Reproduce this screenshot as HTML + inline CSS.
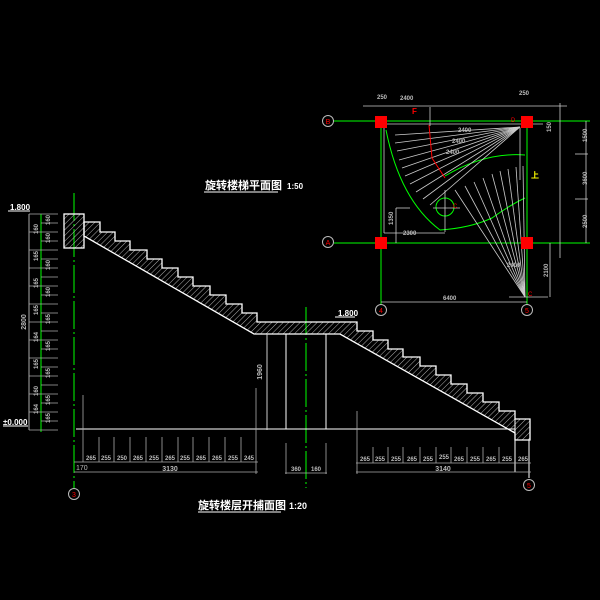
<!DOCTYPE html>
<html><head><meta charset="utf-8"><style>
html,body{margin:0;padding:0;background:#000;}
svg{display:block}
text{font-family:"Liberation Sans","Noto Sans CJK SC",sans-serif;}
.d{fill:#bbb;font-size:7px;font-weight:bold}
.t{fill:#fff;font-size:11px;font-weight:bold}
</style></head><body>
<svg width="600" height="600" viewBox="0 0 600 600" xmlns="http://www.w3.org/2000/svg">
<defs>
<pattern id="h" width="4" height="4" patternUnits="userSpaceOnUse" patternTransform="rotate(45)">
<line x1="0" y1="0" x2="0" y2="4" stroke="#ddd" stroke-width="0.8"/>
</pattern>
</defs>
<rect width="600" height="600" fill="#000"/>

<!-- ===== SECTION ===== -->
<!-- green axis lines -->
<line x1="74" y1="193" x2="74" y2="488" stroke="#0f0" stroke-width="1" stroke-dasharray="28,3,2,3"/>
<line x1="306" y1="307" x2="306" y2="488" stroke="#0f0" stroke-width="1" stroke-dasharray="28,3,2,3"/>
<line x1="41" y1="214" x2="41" y2="432" stroke="#0f0" stroke-width="1"/>
<!-- landing block -->
<rect x="64" y="214" width="20" height="34" fill="url(#h)" stroke="#fff" stroke-width="1.3"/>
<!-- stair body -->
<polygon points="84,222 100,222 100,232 115,232 115,241 130,241 130,250 147,250 147,259 162,259 162,268 178,268 178,277 193,277 193,286 210,286 210,295 226,295 226,304 242,304 242,313 257,313 257,322 357,322 357,331 373,331 373,340 388,340 388,349 403,349 403,357 420,357 420,366 436,366 436,375 451,375 451,384 467,384 467,393 483,393 483,402 499,402 499,411 515,411 515,419 530,419 530,440 515,440 515,433 340,334 254,334 84,236" fill="url(#h)" stroke="#fff" stroke-width="1.3"/>
<line x1="515" y1="419" x2="515" y2="440" stroke="#fff" stroke-width="1"/>
<!-- floor & verticals -->
<line x1="76" y1="429" x2="515" y2="429" stroke="#fff" stroke-width="1"/>
<line x1="267" y1="334" x2="267" y2="430" stroke="#ccc" stroke-width="1"/>
<line x1="286" y1="334" x2="286" y2="429" stroke="#fff" stroke-width="1"/>
<line x1="326" y1="334" x2="326" y2="429" stroke="#fff" stroke-width="1"/>
<line x1="529" y1="440" x2="529" y2="478" stroke="#fff" stroke-width="1"/>
<line x1="515" y1="440" x2="515" y2="472" stroke="#fff" stroke-width="1"/>
<text class="d" transform="translate(262,372) rotate(-90)" text-anchor="middle">1960</text>
<!-- level marks -->
<line x1="335" y1="317" x2="355" y2="317" stroke="#fff"/>
<text class="t" x="338" y="316" style="font-size:8px">1.800</text>
<line x1="8" y1="211" x2="30" y2="211" stroke="#fff"/>
<text class="t" x="10" y="210" style="font-size:8px">1.800</text>
<line x1="3" y1="426" x2="28" y2="426" stroke="#fff"/>
<text class="t" x="3" y="425" style="font-size:8px">±0.000</text>
<!-- left vertical dims -->
<line x1="29" y1="214" x2="29" y2="430" stroke="#aaa"/>
<text class="d" transform="translate(26,322) rotate(-90)" text-anchor="middle">2800</text>
<g stroke="#aaa" stroke-width="0.8">
<line x1="29" y1="214" x2="58" y2="214"/><line x1="41" y1="223" x2="58" y2="223"/><line x1="29" y1="232" x2="58" y2="232"/><line x1="41" y1="241" x2="58" y2="241"/><line x1="29" y1="250" x2="58" y2="250"/><line x1="41" y1="259" x2="58" y2="259"/><line x1="29" y1="268" x2="58" y2="268"/><line x1="41" y1="277" x2="58" y2="277"/><line x1="29" y1="286" x2="58" y2="286"/><line x1="41" y1="295" x2="58" y2="295"/><line x1="29" y1="304" x2="58" y2="304"/><line x1="41" y1="313" x2="58" y2="313"/><line x1="29" y1="322" x2="58" y2="322"/><line x1="41" y1="331" x2="58" y2="331"/><line x1="29" y1="340" x2="58" y2="340"/><line x1="41" y1="349" x2="58" y2="349"/><line x1="29" y1="358" x2="58" y2="358"/><line x1="41" y1="367" x2="58" y2="367"/><line x1="29" y1="376" x2="58" y2="376"/><line x1="41" y1="385" x2="58" y2="385"/><line x1="29" y1="394" x2="58" y2="394"/><line x1="41" y1="403" x2="58" y2="403"/><line x1="29" y1="412" x2="58" y2="412"/><line x1="41" y1="421" x2="58" y2="421"/><line x1="29" y1="430" x2="58" y2="430"/>
</g>
<g class="d" style="font-size:6px">
<text transform="translate(50,225) rotate(-90)">160</text><text transform="translate(38,234) rotate(-90)">160</text><text transform="translate(50,243) rotate(-90)">160</text><text transform="translate(38,261) rotate(-90)">165</text><text transform="translate(50,270) rotate(-90)">160</text><text transform="translate(38,288) rotate(-90)">165</text><text transform="translate(50,297) rotate(-90)">160</text><text transform="translate(38,315) rotate(-90)">165</text><text transform="translate(50,324) rotate(-90)">165</text><text transform="translate(38,342) rotate(-90)">164</text><text transform="translate(50,351) rotate(-90)">165</text><text transform="translate(38,369) rotate(-90)">165</text><text transform="translate(50,378) rotate(-90)">165</text><text transform="translate(38,396) rotate(-90)">160</text><text transform="translate(50,405) rotate(-90)">165</text><text transform="translate(38,414) rotate(-90)">164</text><text transform="translate(50,423) rotate(-90)">165</text>
</g>
<!-- bottom left dims -->
<g stroke="#aaa" stroke-width="0.8">
<line x1="83" y1="395" x2="83" y2="462"/><line x1="99" y1="437" x2="99" y2="462"/><line x1="114" y1="437" x2="114" y2="462"/><line x1="130" y1="437" x2="130" y2="462"/><line x1="146" y1="437" x2="146" y2="462"/><line x1="162" y1="437" x2="162" y2="462"/><line x1="178" y1="437" x2="178" y2="462"/><line x1="193" y1="437" x2="193" y2="462"/><line x1="209" y1="437" x2="209" y2="462"/><line x1="225" y1="437" x2="225" y2="462"/><line x1="241" y1="437" x2="241" y2="462"/><line x1="256" y1="388" x2="256" y2="474"/>
<line x1="74" y1="462" x2="258" y2="462"/><line x1="74" y1="472" x2="258" y2="472"/>
<line x1="286" y1="443" x2="286" y2="474"/><line x1="326" y1="443" x2="326" y2="474"/><line x1="285" y1="473" x2="327" y2="473"/>
<line x1="357" y1="411" x2="357" y2="474"/><line x1="373" y1="447" x2="373" y2="463"/><line x1="388" y1="447" x2="388" y2="463"/><line x1="403" y1="447" x2="403" y2="463"/><line x1="420" y1="447" x2="420" y2="463"/><line x1="436" y1="447" x2="436" y2="463"/><line x1="451" y1="447" x2="451" y2="463"/><line x1="467" y1="447" x2="467" y2="463"/><line x1="483" y1="447" x2="483" y2="463"/><line x1="499" y1="447" x2="499" y2="463"/>
<line x1="356" y1="463" x2="531" y2="463"/><line x1="356" y1="472" x2="531" y2="472"/>
</g>
<g class="d" style="font-size:6px" text-anchor="middle">
<text x="91" y="460">265</text><text x="106" y="460">255</text><text x="122" y="460">250</text><text x="138" y="460">265</text><text x="154" y="460">255</text><text x="170" y="460">265</text><text x="185" y="460">255</text><text x="201" y="460">265</text><text x="217" y="460">265</text><text x="233" y="460">255</text><text x="249" y="460">245</text>
<text x="365" y="461">265</text><text x="380" y="461">255</text><text x="396" y="461">255</text><text x="412" y="461">265</text><text x="428" y="461">255</text><text x="444" y="459">255</text><text x="459" y="461">265</text><text x="475" y="461">255</text><text x="491" y="461">265</text><text x="507" y="461">255</text><text x="523" y="461">265</text>
<text x="296" y="471">360</text><text x="316" y="471">160</text>
</g>
<text class="d" x="76" y="470" style="font-size:7px;font-weight:normal">170</text>
<text class="d" x="170" y="471" text-anchor="middle">3130</text>
<text class="d" x="443" y="471" text-anchor="middle">3140</text>
<circle cx="74" cy="494" r="5.5" fill="none" stroke="#bbb"/><text x="74" y="497" fill="#f00" font-size="7" text-anchor="middle">3</text>
<circle cx="529" cy="485" r="5.5" fill="none" stroke="#bbb"/><text x="529" y="488" fill="#f00" font-size="7" text-anchor="middle">5</text>
<text class="t" x="198" y="509">旋转楼层开捕面图</text><text class="t" x="289" y="509" style="font-size:9px">1:20</text>
<line x1="198" y1="512" x2="281" y2="512" stroke="#fff"/>
<text class="t" x="205" y="189">旋转楼梯平面图</text><text class="t" x="287" y="189" style="font-size:8px">1:50</text>
<line x1="204" y1="192" x2="278" y2="192" stroke="#fff"/>

<!-- ===== PLAN ===== -->
<g stroke="#0f0" stroke-width="1" fill="none">
<line x1="334" y1="121" x2="590" y2="121"/>
<line x1="334" y1="243" x2="590" y2="243"/>
<line x1="381" y1="125" x2="381" y2="304"/>
<line x1="527" y1="128" x2="527" y2="304"/>
<path d="M386,130 Q400,200 440,230 Q470,228 492,218 Q510,205 525,198"/>
<path d="M445,176 Q485,152 525,155"/>
<circle cx="445" cy="207" r="9"/>
</g>
<g stroke="#ccc" stroke-width="0.8" fill="none">
<line x1="363" y1="106" x2="567" y2="106"/>
<line x1="384" y1="124" x2="543" y2="124"/>
<line x1="384" y1="124" x2="384" y2="233"/>
<line x1="384" y1="233" x2="445" y2="233"/>
<line x1="396" y1="208" x2="396" y2="243"/>
<line x1="396" y1="208" x2="410" y2="208"/>
<line x1="381" y1="302" x2="527" y2="302"/>
<line x1="509" y1="297" x2="548" y2="297"/>
<line x1="550" y1="243" x2="550" y2="297"/>
<line x1="560" y1="103" x2="560" y2="258"/>
<line x1="586" y1="121" x2="586" y2="243"/>
<line x1="575" y1="154" x2="588" y2="154"/>
<line x1="575" y1="199" x2="588" y2="199"/>
<line x1="520" y1="128" x2="520" y2="180"/>
<line x1="430" y1="107" x2="430" y2="126"/>
<line x1="445" y1="190" x2="445" y2="232"/><line x1="433" y1="208" x2="460" y2="208"/>
<line x1="520" y1="127" x2="395" y2="135"/><line x1="520" y1="127" x2="395" y2="143"/><line x1="520" y1="127" x2="397" y2="151"/><line x1="520" y1="127" x2="399" y2="160"/><line x1="520" y1="127" x2="402" y2="168"/><line x1="520" y1="127" x2="405" y2="176"/><line x1="520" y1="127" x2="410" y2="184"/><line x1="520" y1="127" x2="416" y2="192"/><line x1="520" y1="127" x2="423" y2="199"/><line x1="520" y1="127" x2="430" y2="205"/>
<line x1="525" y1="297" x2="455" y2="190"/><line x1="525" y1="297" x2="465" y2="186"/><line x1="525" y1="297" x2="474" y2="182"/><line x1="525" y1="297" x2="483" y2="178"/><line x1="525" y1="297" x2="492" y2="174"/><line x1="525" y1="297" x2="500" y2="171"/><line x1="525" y1="297" x2="508" y2="169"/><line x1="525" y1="297" x2="516" y2="167"/><line x1="525" y1="297" x2="523" y2="166"/>
</g>
<path d="M429,125 L432,158 L445,178" stroke="#f00" fill="none"/>
<g fill="#f00">
<rect x="375" y="116" width="12" height="12"/><rect x="521" y="116" width="12" height="12"/>
<rect x="375" y="237" width="12" height="12"/><rect x="521" y="237" width="12" height="12"/>
</g>
<g class="d" style="font-size:6px">
<text x="377" y="99">250</text><text x="400" y="100">2400</text><text x="519" y="95">250</text>
<text x="458" y="132">2400</text><text x="452" y="143">2400</text><text x="446" y="154">2400</text>
<text x="403" y="235">2300</text><text x="507" y="267">2400</text><text x="443" y="300">6400</text>
<text transform="translate(393,225) rotate(-90)">1350</text>
<text transform="translate(548,277) rotate(-90)">2100</text>
<text transform="translate(587,142) rotate(-90)">1500</text>
<text transform="translate(587,185) rotate(-90)">3600</text>
<text transform="translate(587,228) rotate(-90)">2500</text>
<text transform="translate(551,132) rotate(-90)">150</text>
</g>
<text x="412" y="114" fill="#f00" font-size="8" font-weight="bold">F</text>
<text x="511" y="122" fill="#f00" font-size="6">D</text>
<text x="453" y="208" fill="#f00" font-size="6">C</text>
<text x="528" y="296" fill="#f00" font-size="6">C</text>
<text x="531" y="178" fill="#ff0" font-size="8" font-weight="bold">上</text>
<g fill="none" stroke="#bbb">
<circle cx="328" cy="121" r="5.5"/><circle cx="328" cy="242" r="5.5"/><circle cx="381" cy="310" r="5.5"/><circle cx="527" cy="310" r="5.5"/>
</g>
<g fill="#f00" font-size="7" text-anchor="middle">
<text x="328" y="124">B</text><text x="328" y="245">A</text><text x="381" y="313">4</text><text x="527" y="313">5</text>
</g>
</svg>
</body></html>
